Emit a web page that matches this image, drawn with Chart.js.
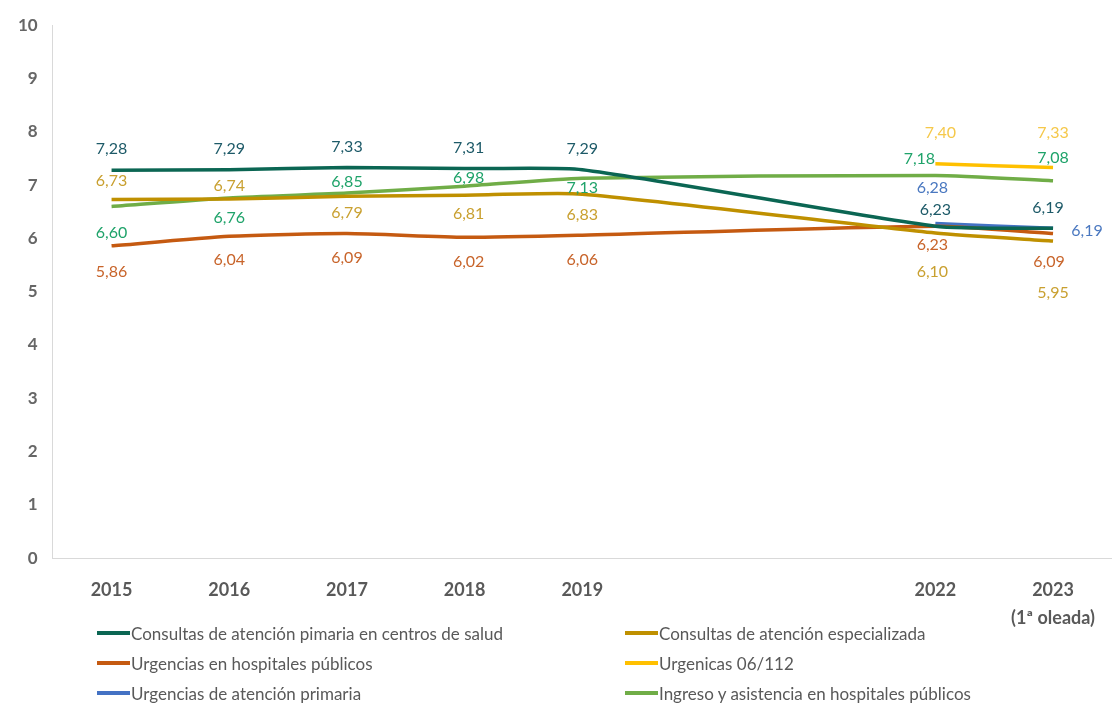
<!DOCTYPE html>
<html>
<head>
<meta charset="utf-8">
<script src="https://cdn.jsdelivr.net/npm/chart.js@4/dist/chart.umd.min.js"></script>
<style>
  body { margin: 0; background: #fff; font-family: Lato, "Open Sans", sans-serif; }
  #wrap { position: relative; width: 1113px; height: 704px; overflow: hidden; }
  #chartBox { position: absolute; left: 0; top: 0; width: 1113px; height: 650px; }
  #legend { position: absolute; left: 97px; top: 621px; width: 1010px;
            display: grid; grid-template-columns: 528px 470px; row-gap: 6px; }
  .item { display: flex; align-items: center; font-size: 17px; color: #595959; height: 24px; }
  .swatch { width: 33px; height: 3.5px; margin-right: 1px; }
</style>
</head>
<body>
<div id="wrap">
  <div id="chartBox"><canvas id="c"></canvas></div>
  <div id="legend"></div>
</div>
<script>
// categories (2020 and 2021 have no survey, labels left blank)
var categories = ['2015', '2016', '2017', '2018', '2019', '', '', '2022', ['2023', '(1ª oleada)']];

var primariaCentros = [7.28, 7.29, 7.33, 7.31, 7.29, null, null, 6.23, 6.19];
var especializada   = [6.73, 6.74, 6.79, 6.81, 6.83, null, null, 6.10, 5.95];
var urgHospitales   = [5.86, 6.04, 6.09, 6.02, 6.06, null, null, 6.23, 6.09];
var urg112          = [null, null, null, null, null, null, null, 7.40, 7.33];
var urgPrimaria     = [null, null, null, null, null, null, null, 6.28, 6.19];
var ingreso         = [6.60, 6.76, 6.85, 6.98, 7.13, null, null, 7.18, 7.08];

var yTicks = [0, 1, 2, 3, 4, 5, 6, 7, 8, 9, 10];

// label placement, pixel offsets from each point [dx, dy]
var labelOffsets = [
    [[0,-21],[0,-21],[0,-21],[4,-21],[0,-21],null,null,[0,-16],[-5,-20]],
    [[0,-19],[0,-13],[0,17],[4,19],[0,21],null,null,[-3,39],[0,52]],
    [[0,26],[0,24],[0,24],[4,25],[0,25],null,null,[-3,19],[-4,28]],
    [null,null,null,null,null,null,null,[5,-31],[0,-35]],
    [null,null,null,null,null,null,null,[-3,-36],[34,3]],
    [[0,26],[0,20],[0,-11],[4,-8],[0,10],null,null,[-16,-17],[0,-23]]
];

var datasets = [
    { label: 'Consultas de atención pimaria en centros de salud', data: primariaCentros, borderColor: '#0B6653', labelColor: '#1D5A68' },
    { label: 'Consultas de atención especializada', data: especializada, borderColor: '#BF9000', labelColor: '#C9A030' },
    { label: 'Urgencias en hospitales públicos', data: urgHospitales, borderColor: '#C55A11', labelColor: '#C8642A' },
    { label: 'Urgenicas 06/112', data: urg112, borderColor: '#FFC000', labelColor: '#F5C84A' },
    { label: 'Urgencias de atención primaria', data: urgPrimaria, borderColor: '#4472C4', labelColor: '#4A78C0' },
    { label: 'Ingreso y asistencia en hospitales públicos', data: ingreso, borderColor: '#70AD47', labelColor: '#1FA36A' }
];

datasets.forEach(function (d) {
    d.borderWidth = 3.5;
    d.pointRadius = 0;
    d.tension = 0.2;
    d.spanGaps = true;
    d.fill = false;
});

var valueLabels = {
    id: 'valueLabels',
    afterDatasetsDraw: function (chart) {
        var ctx = chart.ctx;
        ctx.save();
        ctx.font = '16px Lato, "Open Sans", sans-serif';
        ctx.textAlign = 'center';
        ctx.textBaseline = 'middle';
        chart.data.datasets.forEach(function (ds, di) {
            var meta = chart.getDatasetMeta(di);
            ds.data.forEach(function (v, i) {
                if (v === null) return;
                var off = labelOffsets[di][i] || [0, -18];
                var el = meta.data[i];
                ctx.fillStyle = ds.labelColor;
                ctx.fillText(v.toFixed(2).replace('.', ','), el.x + off[0], el.y + off[1]);
            });
        });
        ctx.restore();
    }
};

var chart = new Chart(document.getElementById('c'), {
    type: 'line',
    data: { labels: categories, datasets: datasets },
    options: {
        responsive: true,
        maintainAspectRatio: false,
        animation: false,
        layout: { padding: { top: -6, left: 3, right: 0, bottom: 0 } },
        plugins: { legend: { display: false }, tooltip: { enabled: false } },
        scales: {
            x: {
                offset: true,
                grid: { display: false, drawTicks: false },
                border: { color: '#D9D9D9' },
                ticks: { color: '#595959', font: { family: 'Lato', size: 18, weight: 'bold', lineHeight: 1.55 }, padding: 18, maxRotation: 0, autoSkip: false }
            },
            y: {
                min: 0,
                max: 10,
                afterBuildTicks: function (axis) { axis.ticks = yTicks.map(function (v) { return { value: v }; }); },
                grid: { display: false, drawTicks: false },
                border: { color: '#D9D9D9' },
                ticks: { color: '#666666', font: { family: 'Lato', size: 17, weight: 'bold' }, padding: 15 }
            }
        }
    },
    plugins: [valueLabels]
});

// two-column legend like the original
var legend = document.getElementById('legend');
datasets.forEach(function (d) {
    var item = document.createElement('div');
    item.className = 'item';
    var sw = document.createElement('span');
    sw.className = 'swatch';
    sw.style.background = d.borderColor;
    item.appendChild(sw);
    item.appendChild(document.createTextNode(d.label));
    legend.appendChild(item);
});
</script>
</body>
</html>
